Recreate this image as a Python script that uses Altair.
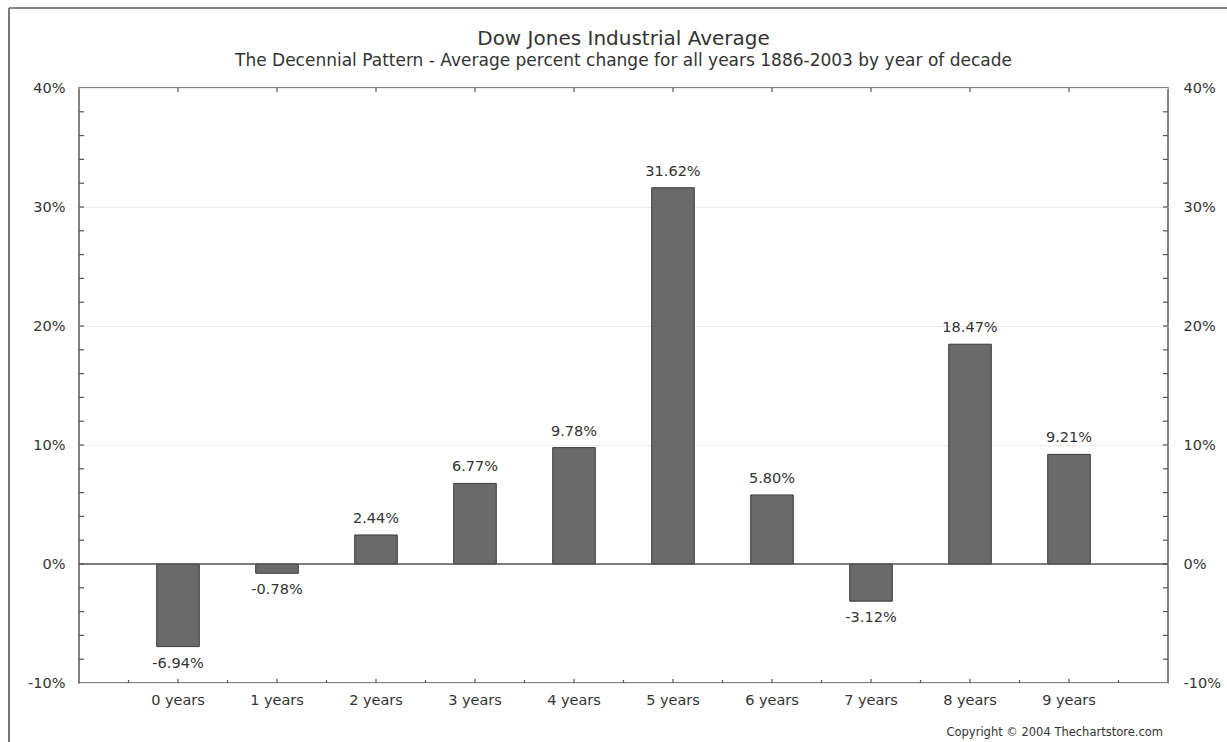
import altair as alt
import pandas as pd

# ---------------- data ----------------
categories = ["0 years", "1 years", "2 years", "3 years", "4 years",
              "5 years", "6 years", "7 years", "8 years", "9 years"]
values = [-6.94, -0.78, 2.44, 6.77, 9.78, 31.62, 5.80, -3.12, 18.47, 9.21]
y_label_values = [-10, 0, 10, 20, 30, 40]
y_minor_ticks = [-8, -6, -4, -2, 0, 2, 4, 6, 8, 10, 12, 14, 16, 18, 20,
                 22, 24, 26, 28, 30, 32, 34, 36, 38]

W, H = 1089, 595
FONT = "DejaVu Sans"
TXT = "#333333"
LINE = "#555555"
LBL = 14.5

df = pd.DataFrame({"cat": categories, "value": values})
df["label"] = [f"{v:.2f}%" for v in values]
ticks_df = pd.DataFrame({"v": y_minor_ticks})
cat_df = pd.DataFrame({"cat": categories})
last_df = pd.DataFrame({"cat": categories[-1:]})
zero_df = pd.DataFrame({"z": [0]})
deco_df = pd.DataFrame({"d": [0]})

main_x = alt.Scale(type="band", domain=categories, paddingInner=0.57, paddingOuter=0.785)
tick_x = alt.Scale(type="band", domain=categories, paddingInner=0, paddingOuter=0.5)
y_scale = alt.Scale(domain=[-10, 40], nice=False, zero=False)

bars = alt.Chart(df).mark_bar(color="#6a6a6a", stroke="#3a3a3a", strokeWidth=1).encode(
    x=alt.X("cat:N", sort=categories, scale=main_x,
            axis=alt.Axis(title=None, labelAngle=0, ticks=False, domain=False,
                          labelPadding=10, labelFontSize=LBL, labelFont=FONT,
                          labelColor=TXT)),
    y=alt.Y("value:Q", scale=y_scale,
            axis=alt.Axis(values=y_label_values, labelExpr="datum.value + '%'",
                          title=None, ticks=False, domain=False, grid=True,
                          gridColor="#ececec", gridWidth=1, labelPadding=14,
                          labelFontSize=LBL, labelFont=FONT, labelColor=TXT)),
)

zero_line = alt.Chart(zero_df).mark_rule(color=LINE, strokeWidth=1.5).encode(
    y=alt.Y("z:Q", scale=y_scale, axis=None)
)

pos_text = alt.Chart(df).transform_filter("datum.value >= 0").mark_text(
    baseline="bottom", dy=-9, fontSize=LBL, font=FONT, color=TXT
).encode(
    x=alt.X("cat:N", sort=categories, scale=main_x, axis=None),
    y=alt.Y("value:Q", scale=y_scale, axis=None),
    text="label:N",
)
neg_text = alt.Chart(df).transform_filter("datum.value < 0").mark_text(
    baseline="top", dy=10, fontSize=LBL, font=FONT, color=TXT
).encode(
    x=alt.X("cat:N", sort=categories, scale=main_x, axis=None),
    y=alt.Y("value:Q", scale=y_scale, axis=None),
    text="label:N",
)

left_ticks = alt.Chart(ticks_df).mark_rule(color=LINE, strokeWidth=1.2).encode(
    y=alt.Y("v:Q", scale=y_scale, axis=None),
    x=alt.value(0), x2=alt.value(5),
)
right_ticks = alt.Chart(ticks_df).mark_rule(color=LINE, strokeWidth=1.2).encode(
    y=alt.Y("v:Q", scale=y_scale,
            axis=alt.Axis(orient="right", values=y_label_values,
                          labelExpr="datum.value + '%'", title=None, ticks=False,
                          domain=False, grid=False, labelPadding=15,
                          labelFontSize=LBL, labelFont=FONT, labelColor=TXT)),
    x=alt.value(W - 5), x2=alt.value(W),
)

bottom_center = alt.Chart(cat_df).mark_rule(color=LINE, strokeWidth=1.2).encode(
    x=alt.X("cat:N", sort=categories, scale=tick_x, axis=None),
    y=alt.value(H - 4), y2=alt.value(H),
)
bottom_edge = alt.Chart(cat_df).mark_rule(color=LINE, strokeWidth=1.2).encode(
    x=alt.X("cat:N", sort=categories, scale=tick_x, axis=None, bandPosition=0),
    y=alt.value(H - 3), y2=alt.value(H),
)
bottom_last = alt.Chart(last_df).mark_rule(color=LINE, strokeWidth=1.2).encode(
    x=alt.X("cat:N", sort=categories, scale=tick_x, axis=None, bandPosition=1),
    y=alt.value(H - 3), y2=alt.value(H),
)
top_ticks = alt.Chart(cat_df).mark_rule(color=LINE, strokeWidth=1.2).encode(
    x=alt.X("cat:N", sort=categories, scale=tick_x, axis=None),
    y=alt.value(0), y2=alt.value(4),
)

copyright_text = alt.Chart(deco_df).mark_text(
    align="right", baseline="middle", fontSize=11.5, font=FONT, color=TXT
).encode(
    x=alt.value(W - 5), y=alt.value(H + 50),
    text=alt.value("Copyright \u00a9 2004 Thechartstore.com"),
)

# outer page frame (top and left edges of the scanned page)
frame_left = alt.Chart(deco_df).mark_rule(color="#777777", strokeWidth=2).encode(
    x=alt.value(-70), y=alt.value(-80), y2=alt.value(H + 60),
)
frame_top = alt.Chart(deco_df).mark_rule(color="#888888", strokeWidth=2).encode(
    x=alt.value(-70), x2=alt.value(W + 60), y=alt.value(-80),
)

chart = alt.layer(
    bars, zero_line, pos_text, neg_text, left_ticks, right_ticks,
    bottom_center, bottom_edge, bottom_last, top_ticks, copyright_text,
    frame_left, frame_top,
).resolve_scale(x="independent", y="shared").resolve_axis(
    x="independent", y="independent"
).properties(
    width=W, height=H,
    autosize="none",
    padding={"left": 79, "top": 88, "right": 59, "bottom": 59},
    title=alt.TitleParams(
        text="Dow Jones Industrial Average",
        subtitle="The Decennial Pattern - Average percent change for all years 1886-2003 by year of decade",
        font=FONT, subtitleFont=FONT, fontSize=20, subtitleFontSize=17,
        fontWeight="normal", color=TXT, subtitleColor=TXT,
        anchor="middle", offset=-62, subtitlePadding=4,
    ),
).configure_view(stroke="#5a5a5a", strokeWidth=1.5)

chart.save("out.html", embed_options={"renderer": "svg", "actions": False})
